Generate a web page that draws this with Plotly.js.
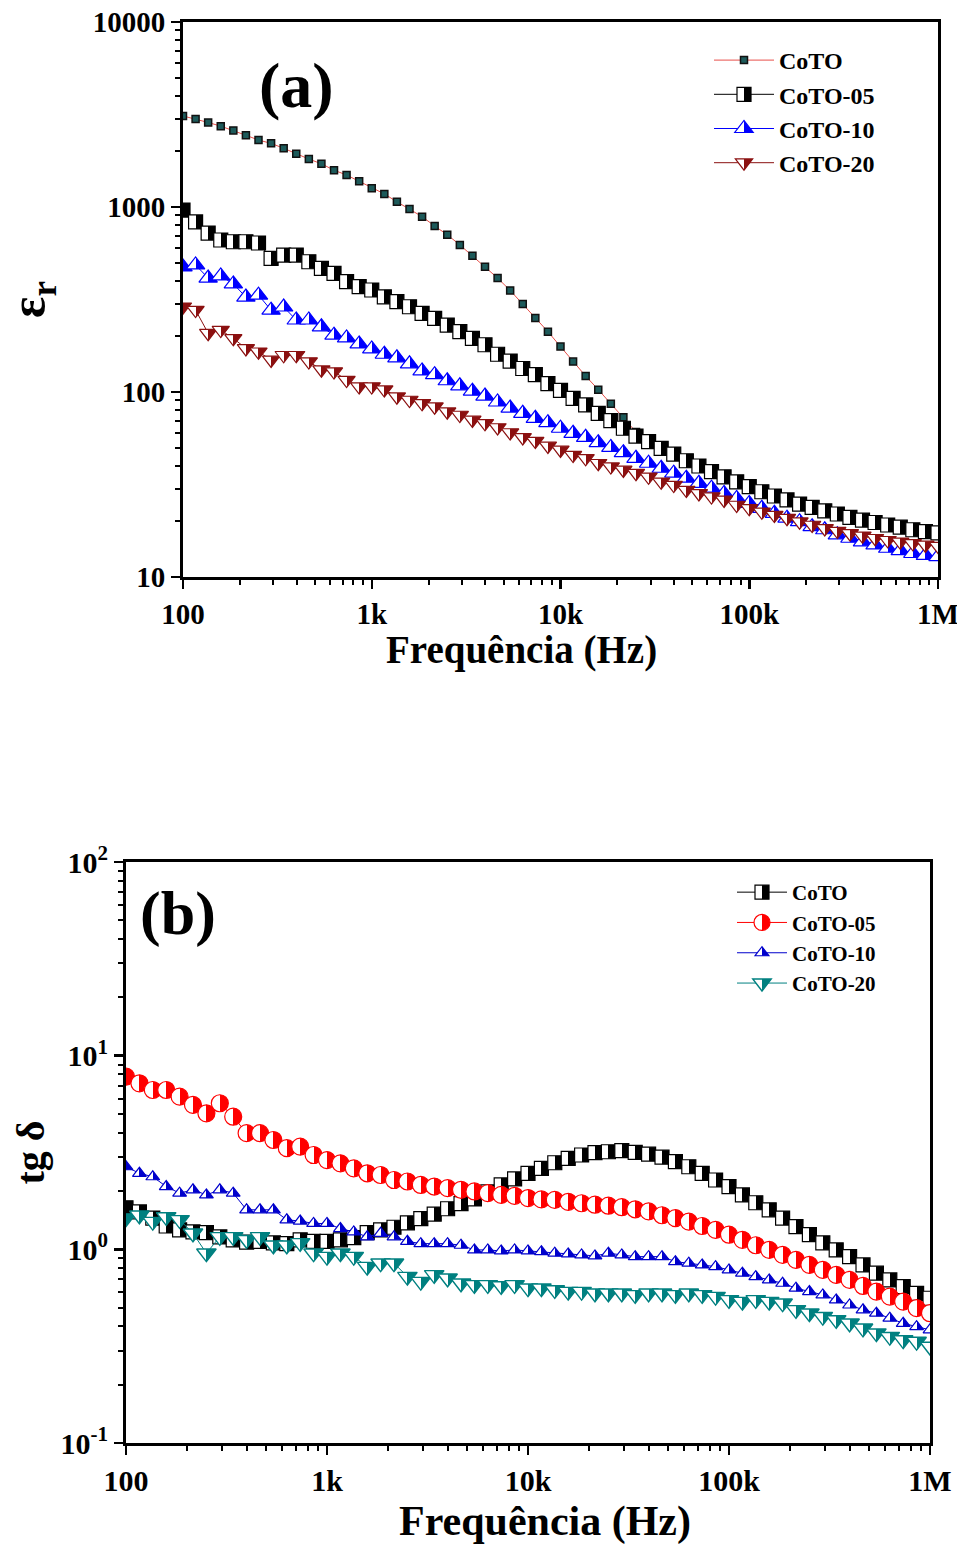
<!DOCTYPE html>
<html><head><meta charset="utf-8">
<script src="https://cdn.plot.ly/plotly-3.0.1.min.js"></script>
<style>html,body{margin:0;padding:0;background:#fff}#chart{width:957px;height:1546px}</style>
</head><body><div id="chart"></div>
<script>
// Frequencies (Hz), 15 points per decade
const freq = [100, 116.6, 135.9, 158.5, 184.8, 215.4, 251.2, 292.9, 341.5, 398.1, 464.2, 541.2, 631, 735.6, 857.7,
  1000, 1166, 1359, 1585, 1848, 2154, 2512, 2929, 3415, 3981, 4642, 5412, 6310, 7356, 8577,
  10000, 11660, 13590, 15850, 18480, 21540, 25120, 29290, 34150, 39810, 46420, 54120, 63100, 73560, 85770,
  100000, 116600, 135900, 158500, 184800, 215400, 251200, 292900, 341500, 398100, 464200, 541200, 631000, 735600, 857700, 1000000];

const seriesNames = ["CoTO", "CoTO-05", "CoTO-10", "CoTO-20"];

// (a) relative permittivity
const epsCoTO = [3105, 2990, 2864, 2735, 2594, 2442, 2301, 2208, 2076, 1939, 1817, 1712, 1581, 1489, 1377, 1264, 1177, 1067, 975, 887,
  789, 708, 624, 545, 475, 413, 354, 299, 251, 212, 176, 146, 122, 103, 86.4, 73, 60.8, 52.3, 48.1, 44.8,
  41.2, 38.6, 36.0, 33.8, 31.7, 29.9, 28.0, 26.6, 25.3, 24.1, 23.1, 22.1, 21.2, 20.4, 19.7, 19.1, 18.5, 18.0, 17.5, 17.1, 16.8];
const epsCoTO05 = [963, 830, 723, 663, 649, 649, 639, 528, 550, 550, 506, 466, 438, 395, 371, 356, 327, 308, 289, 266,
  250, 230, 212, 195, 180, 160, 147, 134, 124, 111, 102, 92.4, 85.1, 76.7, 70.0, 63.7, 57.8, 53.9, 49.6, 46.2,
  42.5, 39.8, 37.1, 34.8, 32.7, 30.8, 28.9, 27.4, 26.1, 24.8, 23.8, 22.8, 21.9, 21.0, 20.3, 19.7, 19.1, 18.6, 18.0, 17.6, 17.3];
const epsCoTO10 = [474, 486, 413, 424, 384, 326, 334, 277, 288, 245, 245, 225, 203, 196, 182, 171, 160, 153, 142, 130,
  124, 115, 108, 101, 95.1, 88.3, 81.9, 76.7, 72.1, 68.3, 63.7, 59.8, 56.9, 53.2, 50.2, 47.0, 43.8, 41.2, 38.7, 36.4,
  34.2, 32.1, 30.2, 28.3, 26.6, 25.0, 23.5, 22.1, 20.8, 19.9, 18.7, 18.0, 16.9, 16.2, 15.5, 14.9, 14.3, 13.9, 13.4, 13.1, 12.9];
const epsCoTO20 = [289, 277, 208, 216, 195, 172, 165, 149, 158, 158, 146, 132, 129, 116, 107, 107, 103, 94.3, 90.5, 86.9,
  83.3, 78.3, 75.1, 70.6, 67.7, 64.3, 60.4, 56.8, 54.3, 51.1, 48.6, 45.6, 43.8, 41.2, 39.5, 37.9, 36.4, 34.8, 32.7, 31.4,
  29.5, 28.3, 27.2, 26.1, 24.5, 23.5, 22.5, 21.6, 20.8, 19.9, 19.1, 18.3, 17.7, 17.2, 16.7, 16.2, 15.8, 15.5, 15.2, 14.9, 14.7];

// (b) loss tangent
const tgCoTO = [1.64, 1.56, 1.45, 1.32, 1.26, 1.23, 1.22, 1.16, 1.12, 1.09, 1.10, 1.08, 1.07, 1.12, 1.10, 1.10, 1.12, 1.15, 1.22, 1.26,
  1.30, 1.37, 1.44, 1.52, 1.62, 1.72, 1.82, 1.98, 2.15, 2.31, 2.47, 2.62, 2.80, 2.95, 3.07, 3.16, 3.19, 3.23, 3.17, 3.10,
  2.99, 2.84, 2.67, 2.47, 2.28, 2.11, 1.91, 1.74, 1.60, 1.45, 1.31, 1.19, 1.08, 0.993, 0.917, 0.831, 0.753, 0.695, 0.642, 0.593, 0.559];
const tgCoTO05 = [7.79, 7.20, 6.65, 6.65, 6.14, 5.57, 5.04, 5.68, 4.84, 3.98, 3.98, 3.67, 3.33, 3.39, 3.07, 2.89, 2.78, 2.62, 2.47, 2.42,
  2.28, 2.24, 2.15, 2.11, 2.07, 2.03, 1.99, 1.95, 1.91, 1.89, 1.84, 1.81, 1.80, 1.76, 1.73, 1.70, 1.68, 1.65, 1.61, 1.57,
  1.50, 1.45, 1.39, 1.32, 1.26, 1.19, 1.12, 1.05, 0.993, 0.936, 0.882, 0.831, 0.783, 0.738, 0.695, 0.647, 0.605, 0.570, 0.537, 0.497, 0.468];
const tgCoTO10 = [2.67, 2.47, 2.37, 2.11, 1.95, 2.03, 1.91, 2.03, 1.95, 1.60, 1.60, 1.60, 1.42, 1.40, 1.36, 1.36, 1.28, 1.23, 1.16, 1.21,
  1.16, 1.10, 1.07, 1.07, 1.07, 1.05, 0.993, 0.993, 0.981, 0.993, 0.981, 0.973, 0.955, 0.947, 0.936, 0.925, 0.955, 0.936, 0.917, 0.917,
  0.917, 0.864, 0.848, 0.831, 0.814, 0.783, 0.753, 0.723, 0.695, 0.668, 0.630, 0.605, 0.582, 0.548, 0.516, 0.487, 0.468, 0.441, 0.415, 0.399, 0.384];
const tgCoTO20 = [1.45, 1.50, 1.39, 1.47, 1.42, 1.21, 0.955, 1.16, 1.16, 1.12, 1.16, 1.05, 1.05, 1.08, 0.955, 0.917, 0.955, 0.917, 0.814, 0.848,
  0.848, 0.723, 0.681, 0.738, 0.709, 0.668, 0.655, 0.655, 0.647, 0.655, 0.630, 0.630, 0.617, 0.605, 0.605, 0.593, 0.593, 0.593, 0.582, 0.593,
  0.593, 0.582, 0.593, 0.582, 0.570, 0.548, 0.537, 0.548, 0.537, 0.527, 0.487, 0.468, 0.449, 0.432, 0.415, 0.391, 0.369, 0.354, 0.340, 0.334, 0.315];

// tick labels
const xTickVals = [100, 1000, 10000, 100000, 1000000];
const xTickText = ["100", "1k", "10k", "100k", "1M"];
const yaTickVals = [10, 100, 1000, 10000];
const yaTickText = ["10", "100", "1000", "10000"];
const ybTickVals = [0.1, 1, 10, 100];
const ybTickText = ["10<sup>-1</sup>", "10<sup>0</sup>", "10<sup>1</sup>", "10<sup>2</sup>"];
const xTitle = "Frequência (Hz)";

function minorTicks(lo, hi) {
  const out = [];
  for (let d = lo; d < hi; d++) for (let k = 2; k <= 9; k++) out.push(k * Math.pow(10, d));
  return out;
}

const FONT = "Liberation Serif, Times New Roman, serif";

function half(sym, size, color, lw) {
  return {symbol: sym, size: size, color: "white", line: {color: color, width: lw},
          gradient: {type: "horizontal", color: color}};
}

const traces = [
  {x: freq, y: epsCoTO, name: seriesNames[0], mode: "lines+markers", xaxis: "x", yaxis: "y", legend: "legend",
   line: {color: "#e8504a", width: 1}, marker: {symbol: "square", size: 7, color: "#1d5a5a", line: {color: "#111", width: 1.5}}},
  {x: freq, y: epsCoTO05, name: seriesNames[1], mode: "lines+markers", xaxis: "x", yaxis: "y", legend: "legend",
   line: {color: "black", width: 1}, marker: half("square", 14, "black", 1.2)},
  {x: freq, y: epsCoTO10, name: seriesNames[2], mode: "lines+markers", xaxis: "x", yaxis: "y", legend: "legend",
   line: {color: "#0000ff", width: 1}, marker: half("triangle-up", 16, "#0000ff", 1.2)},
  {x: freq, y: epsCoTO20, name: seriesNames[3], mode: "lines+markers", xaxis: "x", yaxis: "y", legend: "legend",
   line: {color: "#8b1010", width: 1}, marker: half("triangle-down", 15, "#8b1010", 1.2)},

  {x: freq, y: tgCoTO, name: seriesNames[0], mode: "lines+markers", xaxis: "x2", yaxis: "y2", legend: "legend2",
   line: {color: "black", width: 1}, marker: half("square", 14, "black", 1.2)},
  {x: freq, y: tgCoTO05, name: seriesNames[1], mode: "lines+markers", xaxis: "x2", yaxis: "y2", legend: "legend2",
   line: {color: "#ff0000", width: 1}, marker: half("circle", 17, "#ff0000", 1.2)},
  {x: freq, y: tgCoTO10, name: seriesNames[2], mode: "lines+markers", xaxis: "x2", yaxis: "y2", legend: "legend2",
   line: {color: "#0000cc", width: 1}, marker: half("triangle-up", 12, "#0000cc", 1.2)},
  {x: freq, y: tgCoTO20, name: seriesNames[3], mode: "lines+markers", xaxis: "x2", yaxis: "y2", legend: "legend2",
   line: {color: "#008080", width: 1}, marker: half("triangle-down", 17, "#008080", 1.4)}
];

function axis(fs, extra) {
  return Object.assign({
    type: "log", showline: true, linecolor: "black", linewidth: 3, mirror: true,
    ticks: "outside", ticklen: 9, tickwidth: 2.5, tickcolor: "black",
    showgrid: false, zeroline: false, ticklabeloverflow: "allow",
    tickfont: {family: FONT, size: fs, color: "black", weight: "bold"}
  }, extra);
}
function minor(lo, hi) {
  return {tickmode: "array", tickvals: minorTicks(lo, hi), ticks: "outside", ticklen: 5, tickwidth: 2, tickcolor: "black"};
}

const layout = {
  width: 957, height: 1546,
  margin: {l: 0, r: 0, t: 0, b: 0},
  paper_bgcolor: "white", plot_bgcolor: "white",
  showlegend: true,
  xaxis: axis(29, {domain: [183/957, 938/957], range: [2, 6], anchor: "y",
    tickmode: "array", tickvals: xTickVals, ticktext: xTickText, minor: minor(2, 6)}),
  yaxis: axis(29, {domain: [1 - 577/1546, 1 - 22/1546], range: [1, 4], anchor: "x",
    tickmode: "array", tickvals: yaTickVals, ticktext: yaTickText, minor: minor(1, 4),
    title: {text: "ε<sub>r</sub>", font: {family: FONT, size: 50, color: "black", weight: "bold"}, standoff: 52}}),
  xaxis2: axis(30, {domain: [126/957, 930/957], range: [2, 6], anchor: "y2",
    tickmode: "array", tickvals: xTickVals, ticktext: xTickText, minor: minor(2, 6)}),
  yaxis2: axis(30, {domain: [1 - 1443/1546, 1 - 862/1546], range: [-1, 2], anchor: "x2",
    tickmode: "array", tickvals: ybTickVals, ticktext: ybTickText, minor: minor(-1, 2),
    title: {text: "tg δ", font: {family: FONT, size: 40, color: "black", weight: "bold"}, standoff: 4}}),
  legend: {x: 709/957, y: 1 - 38/1546, xanchor: "left", yanchor: "top", bgcolor: "rgba(0,0,0,0)",
    font: {family: FONT, size: 24, color: "black", weight: "bold"}, itemwidth: 60, tracegroupgap: 0},
  legend2: {x: 732/957, y: 1 - 872/1546, xanchor: "left", yanchor: "top", bgcolor: "rgba(0,0,0,0)",
    font: {family: FONT, size: 21, color: "black", weight: "bold"}, itemwidth: 50, tracegroupgap: 0},
  annotations: [
    {text: "(a)", xref: "paper", yref: "paper", x: 296/957, y: 1 - 86/1546, xanchor: "center", yanchor: "middle",
     showarrow: false, font: {family: FONT, size: 64, color: "black", weight: "bold"}},
    {text: "(b)", xref: "paper", yref: "paper", x: 178/957, y: 1 - 913/1546, xanchor: "center", yanchor: "middle",
     showarrow: false, font: {family: FONT, size: 62, color: "black", weight: "bold"}},
    {text: xTitle, xref: "paper", yref: "paper", x: 521/957, y: 1 - 650/1546, xanchor: "center", yanchor: "middle",
     showarrow: false, font: {family: FONT, size: 39, color: "black", weight: "bold"}},
    {text: xTitle, xref: "paper", yref: "paper", x: 545/957, y: 1 - 1521/1546, xanchor: "center", yanchor: "middle",
     showarrow: false, font: {family: FONT, size: 42, color: "black", weight: "bold"}}
  ]
};

function hardEdges() {
  const isWhite = s => {
    const c = (s.getAttribute("stop-color") || "").replace(/\s/g, "").toLowerCase();
    return c === "rgb(255,255,255)" || c === "#ffffff" || c === "#fff" || c === "white";
  };
  document.querySelectorAll("#chart linearGradient").forEach(g => {
    const stops = Array.from(g.querySelectorAll("stop"));
    const w = stops.find(isWhite), c = stops.find(s => !isWhite(s));
    if (!w || !c) return;
    const wc = w.getAttribute("stop-color"), cc = c.getAttribute("stop-color");
    while (g.firstChild) g.removeChild(g.firstChild);
    g.setAttribute("x1", "0"); g.setAttribute("x2", "1"); g.setAttribute("y1", "0"); g.setAttribute("y2", "0");
    [[0, wc], [0.5, wc], [0.5, cc], [1, cc]].forEach(p => {
      const s = document.createElementNS("http://www.w3.org/2000/svg", "stop");
      s.setAttribute("offset", p[0]); s.setAttribute("stop-color", p[1]);
      g.appendChild(s);
    });
  });
}

Plotly.newPlot("chart", traces, layout, {displayModeBar: false, staticPlot: true}).then(hardEdges);
</script>
</body></html>
